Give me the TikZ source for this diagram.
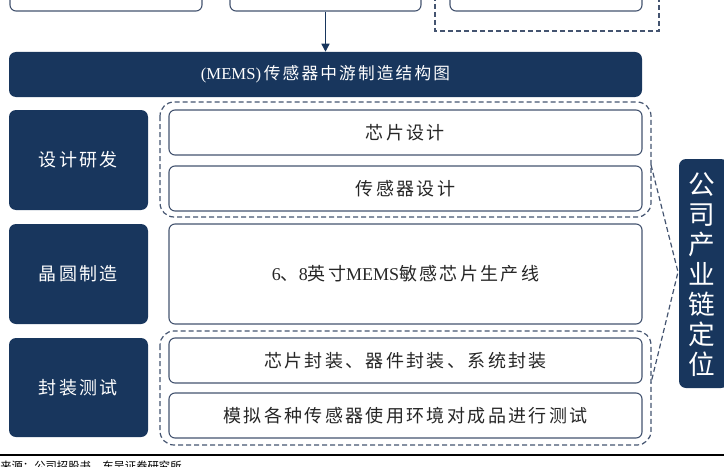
\documentclass[tikz,border=0pt]{standalone}
\usepackage{fontspec}
\setmainfont{Noto Sans CJK SC}
\newfontfamily\cjk[LetterSpace=13]{Noto Sans CJK SC}
\newfontfamily\lat{Liberation Serif}
\usetikzlibrary{arrows.meta}
\definecolor{navyc}{RGB}{24,54,93}
\definecolor{edgec}{RGB}{68,84,112}
\definecolor{inkc}{RGB}{38,38,38}
\newdimen\px \px=0.75pt
\newcommand{\txt}[0]{\cjk\fontsize{13.5pt}{16pt}\selectfont}
\tikzset{
  navy/.style={fill=navyc, rounded corners=7\px, text=white, font=\txt, inner sep=0pt},
  cell/.style={draw=edgec, line width=1.1\px, fill=white, rounded corners=6\px,
    text=inkc, font=\txt, inner sep=0pt, minimum width=473\px},
  grp/.style={draw=edgec, line width=1.2\px, dash pattern=on 5\px off 3\px, rounded corners=14\px}
}

\begin{document}
\begin{tikzpicture}[x=1\px,y=-1\px]
	\useasboundingbox (0,0) rectangle (724,467);
	\clip (0,0) rectangle (724,467);
	% upper boxes, cut by the frame
	\node[cell, minimum width=192\px, minimum height=60\px] (top1) at (106,-19) {};
	\node[cell, minimum width=191\px, minimum height=60\px] (top2) at (325.5,-19) {};
	\draw[edgec, line width=1.2\px, dash pattern=on 5\px off 3\px] (435,-60) rectangle (659,31);
	\node[cell, minimum width=192\px, minimum height=60\px] (top3) at (546,-19) {};
	\node[navy, minimum width=633\px, minimum height=45\px, font=\cjk\fontsize{12.5pt}{15pt}\selectfont]
		(banner) at (325.5,74.5) {{\lat (MEMS)}\,传感器中游制造结构图};
	\draw[navyc, line width=1.5\px, -{Triangle[length=6pt,width=6pt]}] (top2.south) -- (banner.north);
	% dashed groups
	\draw[grp] (160,102) rectangle (651,217);
	\draw[grp] (160,331) rectangle (651,445);
	% stages
	\node[navy, minimum width=139\px, minimum height=100\px] (design) at (78.5,160) {设计研发};
	\node[navy, minimum width=139\px, minimum height=100\px] (wafer) at (78.5,274) {晶圆制造};
	\node[navy, minimum width=139\px, minimum height=99\px] (pack) at (78.5,387.5) {封装测试};
	\node[cell, minimum height=45\px] (chip) at (405.5,132.5) {芯片设计};
	\node[cell, minimum height=45\px] (sensor) at (405.5,188.5) {传感器设计};
	\node[cell, minimum height=100\px] (line) at (405.5,274) {{\lat 6}、{\lat 8}英寸{\lat MEMS}敏感芯片生产线};
	\node[cell, minimum height=45\px] (seal) at (405.5,360.5) {芯片封装、器件封装、系统封装};
	\node[cell, minimum height=45\px] (test) at (405.5,415.5) {模拟各种传感器使用环境对成品进行测试};
	% position on the chain
	\node[navy, minimum width=49\px, minimum height=229\px] (pos) at (703.5,273.5) {};
	\node[text=white, align=center, inner sep=0pt, font=\fontsize{20pt}{22.5pt}\selectfont]
		(postxt) at (702,275) {公\\司\\产\\业\\链\\定\\位};
	\coordinate (tip) at (678,272);
	\coordinate (up) at (651,165);
	\coordinate (down) at (651,383);
	\draw[edgec, line width=1.2\px, dash pattern=on 5\px off 3\px] (up) -- (tip) -- (down);
	% source line
	\draw[black, line width=1.6\px] (0,455) -- (724,455);
	\node[anchor=west, inner sep=0pt, text=black, font=\fontsize{8.5pt}{10pt}\selectfont]
		(src) at (0,466) {来源：公司招股书，东吴证券研究所};
\end{tikzpicture}
\end{document}
